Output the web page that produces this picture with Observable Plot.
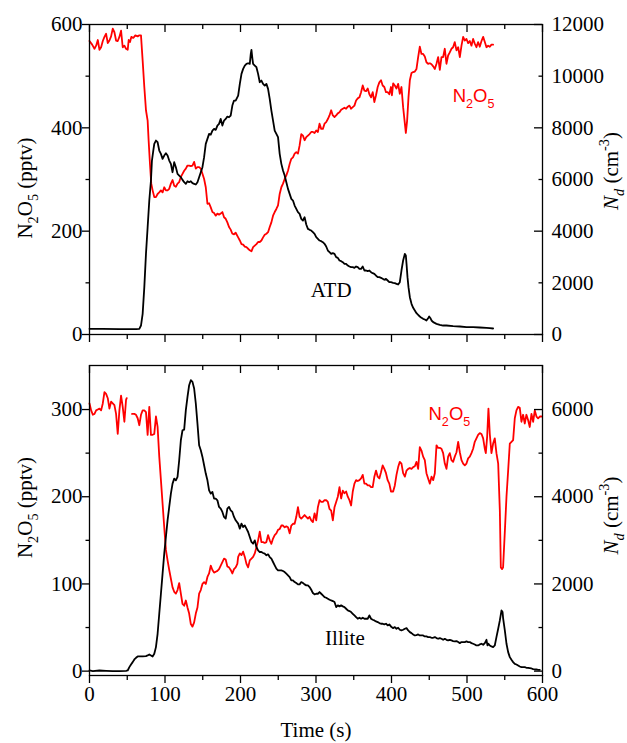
<!DOCTYPE html>
<html>
<head>
<meta charset="utf-8">
<script src="https://cdn.jsdelivr.net/npm/d3@7"></script>
<script src="https://cdn.jsdelivr.net/npm/@observablehq/plot@0.6"></script>
<style>
html, body { margin: 0; padding: 0; background: #fff; }
#chart svg { display: block; }
</style>
</head>
<body>
<div id="chart"></div>
<script>
// ---------------- data ----------------
// time (s), N2O5 (pptv) - ATD experiment
const atdN2O5 = [
[0,568],[3.5,561],[6.6,553],[8.8,559],[11,570],[13.2,551],[15.4,556],[17.6,568],[19.8,576],[22,582],[24.2,564],[26.4,569],[28.6,577],[30.8,592],[33,585],[35.2,569],[37.4,568],[39.6,576],[41.8,588],[44,556],[46.2,559],[48.4,553],[50.6,551],[51.9,570],[53.7,566],[55.4,576],[58,574],[60.7,579],[63.8,577],[66,579],[68.2,579],[70.4,530],[72.6,479],[74.8,434],[77,414],[78.3,376],[80.1,330],[81.8,292],[83.6,279],[85.8,266],[88,266],[90.2,272],[92.4,275],[94.6,279],[96.8,275],[99,285],[101.2,279],[103.4,279],[105.6,282],[107.8,292],[110,299],[112.2,288],[114.4,286],[116.6,292],[118.8,295],[121,305],[123.2,311],[125.4,317],[127.6,321],[129.8,327],[132,327],[134.2,326],[136.4,327],[138.6,334],[140.8,321],[143,324],[145.2,324],[147.4,321],[149.6,311],[151.8,301],[154,285],[156.2,253],[158.4,254],[160.6,246],[162.8,237],[165,235],[167.2,230],[169.4,234],[171.6,232],[173.8,234],[176,237],[178.2,227],[180.4,224],[182.6,217],[184.8,208],[187,203],[189.2,195],[191.4,194],[193.6,197],
[196.9,188],[199.1,182],[201.3,175],[203.5,174],[205.7,170],[207.9,169],[210.1,166],[212.3,163],[214.5,161],[216.7,169],[218.9,172],[221.1,175],[223.3,179],[225.5,179],[227.7,182],[229.9,188],[232.1,193],[234.3,195],[236.5,198],[238.7,208],[240.9,217],[243.1,230],[245.3,237],[247.5,243],[249.7,250],[251.9,272],[254.1,285],[256.3,292],[258.5,301],[260.7,308],[262.9,317],[265.1,330],[267.3,340],[269.5,343],[271.7,350],[273.9,353],[276.1,350],[278.3,366],[280.5,388],[282.7,385],[284.9,376],[287.1,382],[289.3,385],[291.5,388],[293.7,392],[295.9,392],[298.1,390],[300.3,395],[302.5,392],[304.7,408],[306.9,398],[309.1,398],[311.3,408],[313.5,411],[315.7,417],[317.9,424],[320.1,434],[322.3,424],[324.5,421],[326.7,424],[328.9,428],[331.1,430],[333.3,435],[335.5,437],[337.7,439],[339.9,437],[342.1,441],[344.3,443],[346.5,437],[348.7,440],[350.9,443],[353.1,453],[355.3,457],[357.5,459],[359.7,469],[361.9,482],[364.1,472],[366.3,471],[368.5,476],[370.7,465],[372.9,459],[375.1,469],[377.3,450],[379.5,463],[381.7,479],[383.9,488],[386.1,492],[388.3,482],[390.5,479],[392.7,469],[394.9,469],[397.1,465],[399.3,479],[400.6,463],
[402.2,486],[404.4,482],[406.6,476],[408.8,485],[411,466],[413.2,479],[415.4,440],[417.7,408],[419,390],[420.7,414],[422.5,459],[424.3,492],[426.5,506],[428.7,508],[430.9,509],[433.1,514],[435.3,537],[437.5,557],[439.7,543],[441.9,543],[444.1,538],[446.3,527],[448.5,524],[450.8,525],[453,523],[455.2,519],[457.4,514],[459.6,524],[461.8,537],[464,512],[466.2,537],[468.4,537],[470.6,553],[472.8,524],[475,540],[477.2,546],[479.4,553],[481.6,556],[483.8,566],[486.1,550],[488.3,556],[490.5,537],[492.7,559],[494.9,576],[497.1,569],[499.3,572],[501.5,564],[503.7,568],[505.9,559],[508.1,572],[510.3,563],[512.5,556],[514.7,566],[516.9,557],[519.2,568],[521.4,576],[523.6,566],[525.8,556],[528,559],[530.2,557],[532.4,561],[534.6,561]
];
// time (s), Nd (cm^-3) - ATD experiment
const atdNd = [
[0,219],[17.6,219],[39.6,206],[61.6,206],[66,219],[68.2,348],[70.4,800],[72.6,1832],[74.8,3122],[77,4154],[79.2,5186],[81.4,5960],[82.7,6734],[84.5,7121],[85.8,7379],[88,7508],[90.2,7443],[92.4,7121],[94.6,6992],[96.8,6798],[99,6927],[101.2,7018],[103.4,6927],[105.6,6734],[107.8,6605],[110,6282],[112.2,6669],[114.4,6476],[116.6,6218],[118.8,6153],[121,6089],[123.2,5986],[125.4,5895],[127.6,5831],[129.8,5934],[132,5895],[134.2,5934],[136.4,5857],[138.6,5831],[140.8,5805],[143,5895],[145.2,6089],[147.4,6282],[149.6,6476],[151.8,6863],[154,7379],[156.2,7572],[158.4,7766],[160.6,7740],[162.8,7895],[165,7959],[167.2,7921],[169.4,8088],[171.6,8153],[173.8,8346],[176,8088],[178.2,8282],[180.4,8346],[182.6,8437],[184.8,8411],[187,8475],[189.2,8862],[191.4,9056],[193.6,9056],
[196.9,9249],[199.1,9701],[201.3,10088],[203.5,10281],[205.7,10410],[207.9,10475],[210.1,10501],[212.3,10475],[213.6,10862],[214.5,11017],[215.8,10668],[216.7,10475],[218.9,10410],[221.1,10346],[223.3,10088],[225.5,9765],[227.7,9830],[229.9,9701],[232.1,9636],[234.3,9701],[236.5,9507],[238.7,9120],[240.9,8669],[243.1,8282],[245.3,7895],[247.5,7766],[249.7,7637],[251.9,6992],[254.1,6605],[256.3,6347],[258.5,6153],[260.7,5895],[262.9,5637],[265.1,5444],[267.3,5250],[269.5,5186],[271.7,4992],[273.9,4863],[276.1,4734],[278.3,4670],[280.5,4476],[282.7,4412],[284.9,4541],[287.1,4257],[289.3,4089],[291.5,4051],[293.7,4025],[295.9,3960],[298.1,3896],[300.3,3767],[302.5,3702],[304.7,3638],[306.9,3612],[309.1,3573],[311.3,3509],[313.5,3406],[315.7,3251],[317.9,3186],[320.1,3122],[322.3,3148],[324.5,3122],[326.7,2993],[328.9,2967],[331.1,2864],[333.3,2838],[335.5,2799],[337.7,2735],[339.9,2735],[342.1,2670],[344.3,2632],[346.5,2606],[348.7,2606],[350.9,2580],[353.1,2632],[355.3,2606],[357.5,2541],[359.7,2541],[361.9,2632],[364.1,2477],[366.3,2477],[368.5,2451],[370.7,2477],[372.9,2412],[375.1,2374],[377.3,2348],[379.5,2283],[381.7,2219],[383.9,2219],[386.1,2193],[388.3,2154],[390.5,2116],[392.7,2154],[394.9,2090],[397.1,2025],[399.3,2025],
[402.2,2000],[404.4,1986],[406.6,1961],[408.8,1935],[411,2025],[413.2,2477],[415.4,2864],[417.7,3122],[419,3057],[419.9,2735],[421.2,2219],[422.5,1832],[424.3,1445],[426.5,1187],[428.7,1032],[430.9,929],[433.1,826],[435.3,761],[437.5,697],[439.7,645],[441.9,606],[444.1,581],[446.3,542],[448.5,632],[449.9,697],[451.6,632],[453,542],[455.2,477],[459.6,413],[464,374],[468.4,348],[472.8,348],[481.6,323],[490.5,310],[499.3,284],[508.1,284],[516.9,271],[525.8,258],[530.2,245],[534.6,232]
];
// time (s), N2O5 (pptv) - Illite experiment (null = data gap)
const illiteN2O5 = [
[0,307],[2.2,299],[4.4,294],[6.6,295],[8.8,299],[11,300],[13.2,301],[15.4,299],[17.6,307],[19.8,320],[22,318],[24.2,313],[26.4,301],[28.6,309],[30.8,307],[33,305],[35.2,295],[37.4,272],[39.6,299],[41.8,316],[44,303],[46.2,286],[48.4,311],[49.3,313],[52.8,null],[56.3,295],[59.4,295],[61.6,294],[63.8,290],[66,282],[68.2,294],[70.4,299],[72.6,299],[74.8,297],[77,271],[79.2,303],[81.4,271],[83.6,271],[85.8,272],[88,292],[90.2,280],[92.4,246],[94.6,219],[96.8,192],[99,165],[101.2,139],[103.4,127],[105.6,116],[107.8,106],[110,96],[112.2,91],[114.4,89],[116.6,93],[118.8,101],[121,89],[123.2,77],[125.4,75],[127.6,81],[129.8,73],[132,66],[134.2,54],[136.4,51],[138.6,56],[140.8,66],[143,73],[145.2,89],[147.4,93],[149.6,100],[151.8,102],[154,100],[156.2,108],[158.4,112],[160.6,121],[162.8,116],[165,113],[167.2,114],[169.4,115],[171.6,117],[173.8,121],[176,125],[178.2,129],[180.4,128],[182.6,120],[184.8,119],[187,116],[189.2,112],[191.4,117],[193.6,119],[195.8,123],
[196.9,131],[199.1,135],[201.3,133],[203.5,137],[205.7,131],[207.9,123],[210.1,119],[212.3,127],[214.5,129],[216.7,131],[218.9,135],[221.1,142],[223.3,150],[225.5,160],[227.7,148],[229.9,148],[232.1,147],[234.3,148],[236.5,156],[238.7,150],[240.9,146],[243.1,152],[245.3,156],[247.5,158],[249.7,162],[251.9,163],[254.1,167],[256.3,167],[258.5,165],[260.7,166],[262.9,165],[265.1,158],[267.3,167],[269.5,169],[271.7,169],[273.9,177],[276.1,188],[278.3,177],[280.5,175],[282.7,177],[284.9,179],[287.1,177],[289.3,175],[291.5,177],[293.7,173],[295.9,171],[298.1,181],[300.3,173],[302.5,188],[304.7,196],[306.9,194],[309.1,194],[311.3,196],[313.5,196],[315.7,194],[317.9,186],[320.1,184],[322.3,173],[324.5,188],[326.7,194],[328.9,200],[331.1,211],[333.3,198],[335.5,207],[337.7,204],[339.9,206],[342.1,200],[344.3,196],[346.5,190],[348.7,206],[350.9,215],[353.1,219],[355.3,218],[357.5,219],[359.7,221],[361.9,225],[364.1,215],[366.3,215],[368.5,213],[370.7,213],[372.9,211],[375.1,211],[377.3,223],[379.5,230],[381.7,223],[383.9,221],[386.1,228],[388.3,236],[390.5,232],[392.7,227],[394.9,219],[397.1,215],[399.3,206],
[402.2,206],[404.4,213],[406.6,225],[408.8,234],[411,240],[413.2,238],[415.4,227],[417.7,223],[419.9,230],[422.1,232],[424.3,233],[426.5,232],[428.7,234],[430.9,235],[433.1,240],[435.3,232],[437.5,257],[439.7,253],[441.9,246],[444.1,242],[446.3,227],[448.5,221],[450.8,215],[453,223],[455.2,219],[457.4,227],[459.6,259],[461.8,256],[464,256],[466.2,255],[468.4,250],[470.6,238],[472.8,232],[475,246],[477.2,250],[479.4,242],[481.6,240],[483.8,246],[486.1,251],[488.3,263],[490.5,251],[492.7,242],[494.9,238],[497.1,236],[499.3,238],[501.5,244],[503.7,246],[505.9,250],[508.1,255],[510.3,263],[512.5,267],[514.7,271],[516.9,273],[519.2,272],[521.4,267],[523.6,255],[524.9,250],[526.7,269],[528.4,301],[530.2,272],[532.4,250],[534.6,261],[536.8,267],[539,250],[541.3,238],[543.5,184],[544.8,119],[546.5,117],[547.8,119],[550,158],[552.3,200],[554.5,230],[556.7,261],[558.9,263],[561.1,265],[563.3,290],[565.5,299],[567.7,303],[569.9,302],[572.1,286],[574.3,294],[576.5,284],[578.7,294],[580.9,288],[583.1,280],[585.4,295],[587.6,286],[589.8,299],[592,292],[594.2,290],[596.4,292],[598.6,292]
];
// time (s), Nd (cm^-3) - Illite experiment
const illiteNd = [
[0,15],[4.4,0],[13.2,15],[22,8],[30.8,0],[39.6,0],[48.4,8],[50.6,15],[52.8,92],[55,153],[57.2,207],[59.4,268],[61.6,306],[63.8,337],[66,337],[70.4,337],[74.8,344],[77,360],[79.2,383],[81.4,360],[83.6,337],[85.8,398],[88,551],[90.2,857],[92.4,1316],[94.6,1776],[96.8,2235],[99,2694],[101.2,3077],[103.4,3459],[105.6,3765],[107.8,4071],[110,4301],[112.2,4416],[114.4,4377],[116.6,4454],[118.8,4837],[121,5296],[123.2,5525],[125.4,5541],[127.6,5985],[129.8,6291],[132,6559],[134.2,6673],[136.4,6635],[138.6,6482],[140.8,6138],[143,5678],[145.2,5181],[147.4,5066],[149.6,4913],[151.8,4722],[154,4531],[156.2,4377],[158.4,4148],[160.6,4071],[162.8,4110],[165,3957],[167.2,3957],[169.4,3918],[171.6,3765],[173.8,3727],[176,3651],[178.2,3536],[180.4,3497],[182.6,3727],[184.8,3765],[187,3689],[189.2,3651],[191.4,3536],[193.6,3459],
[196.9,3383],[199.1,3268],[201.3,3383],[203.5,3306],[205.7,3344],[207.9,3268],[210.1,3191],[212.3,3077],[214.5,2962],[216.7,2923],[218.9,3000],[221.1,2847],[223.3,2770],[225.5,2732],[227.7,2732],[229.9,2709],[232.1,2694],[234.3,2656],[236.5,2679],[238.7,2617],[240.9,2579],[243.1,2503],[245.3,2426],[247.5,2349],[249.7,2311],[251.9,2311],[254.1,2311],[256.3,2296],[258.5,2273],[260.7,2235],[262.9,2196],[265.1,2158],[267.3,2082],[269.5,2082],[271.7,2043],[273.9,2020],[276.1,1990],[278.3,1990],[280.5,2043],[282.7,2020],[284.9,1990],[287.1,1967],[289.3,1967],[291.5,1929],[293.7,1867],[295.9,1791],[298.1,1760],[300.3,1775],[302.5,1775],[304.7,1814],[306.9,1775],[309.1,1737],[311.3,1699],[313.5,1684],[315.7,1661],[317.9,1638],[320.1,1622],[322.3,1607],[324.5,1584],[326.7,1469],[328.9,1508],[331.1,1485],[333.3,1508],[335.5,1485],[337.7,1469],[339.9,1431],[342.1,1393],[344.3,1378],[346.5,1355],[348.7,1316],[350.9,1278],[353.1,1240],[355.3,1202],[357.5,1224],[359.7,1202],[361.9,1224],[364.1,1202],[366.3,1202],[368.5,1202],[370.7,1278],[372.9,1202],[375.1,1179],[377.3,1163],[379.5,1140],[381.7,1125],[383.9,1102],[386.1,1087],[388.3,1087],[390.5,1071],[392.7,1087],[394.9,1048],[397.1,1071],
[400,1010],[402.2,987],[404.4,1010],[406.6,972],[408.8,995],[411,949],[413.2,934],[415.4,949],[417.7,972],[419.9,987],[422.1,934],[424.3,895],[426.5,872],[428.7,842],[430.9,819],[433.1,827],[435.3,842],[437.5,819],[439.7,819],[441.9,819],[444.1,796],[446.3,796],[448.5,781],[450.8,781],[453,765],[455.2,765],[457.4,781],[459.6,758],[461.8,742],[464,758],[466.2,742],[468.4,719],[470.6,742],[472.8,719],[475,704],[477.2,719],[479.4,704],[481.6,689],[483.8,681],[486.1,689],[488.3,666],[490.5,643],[492.7,666],[494.9,666],[497.1,666],[499.3,681],[501.5,666],[503.7,666],[505.9,643],[508.1,628],[510.3,612],[512.5,589],[514.7,589],[516.9,612],[519.2,628],[521.4,605],[523.6,643],[525.8,719],[527.1,589],[528.4,628],[530.2,589],[532.4,566],[534.6,551],[536.8,589],[539,781],[541.3,972],[543.5,1163],[545.7,1393],[547.1,1355],[547.9,1202],[550.1,934],[552.3,628],[554.5,436],[556.7,321],[558.9,260],[561.1,207],[563.3,168],[565.5,153],[567.7,130],[569.9,107],[572.1,92],[574.3,92],[576.5,92],[578.7,77],[580.9,77],[583.1,69],[585.4,61],[587.6,46],[589.8,38],[592,38],[594.2,31],[596.4,31]
];

// tick values
const timeTicks = [0, 100, 200, 300, 400, 500, 600];
const timeMinor = [50, 150, 250, 350, 450, 550];
const atdLeftTicks = [0, 200, 400, 600];
const atdLeftMinor = [100, 300, 500];
const atdRightTicks = [0, 2000, 4000, 6000, 8000, 10000, 12000];
const illiteLeftTicks = [0, 100, 200, 300];
const illiteLeftMinor = [50, 150, 250];
const illiteRightTicks = [0, 2000, 4000, 6000];

// text
const seriesLabel = "N2O5";
const leftAxisLabel = "N2O5 (pptv)";
const rightAxisLabel = "Nd (cm-3)";
const xAxisLabel = "Time (s)";
const panelNames = ["ATD", "Illite"];

// ---------------- drawing ----------------
const RATIO = 20;           // right axis (cm^-3) per left-axis unit (pptv)
const RED = "#ff0000";
const W = 627, ML = 89, MR = 85;
const SERIF = "'Liberation Serif', 'Times New Roman', serif";
const SANS = "'Liberation Sans', Arial, sans-serif";
const FS = 21;

function makePanel(cfg) {
  const fw = W - ML - MR;
  const fh = cfg.height - cfg.marginTop - cfg.marginBottom;
  const lw = 1.3;
  const marks = [
    Plot.line(cfg.n2o5, {x: d => d[0], y: d => d[1], stroke: RED, strokeWidth: 1.8}),
    Plot.line(cfg.nd, {x: d => d[0], y: d => d[1] / RATIO, stroke: "#000", strokeWidth: 1.8}),
    Plot.frame({stroke: "#000", strokeWidth: lw}),
    Plot.tickX(timeTicks, {x: d => d, insetTop: fh, insetBottom: -8, stroke: "#000", strokeWidth: lw}),
    Plot.tickX(timeMinor, {x: d => d, insetTop: fh, insetBottom: -5, stroke: "#000", strokeWidth: lw}),
    Plot.tickX(timeTicks, {x: d => d, insetTop: 0, insetBottom: fh - 8, stroke: "#000", strokeWidth: lw}),
    Plot.tickX(timeMinor, {x: d => d, insetTop: 0, insetBottom: fh - 5, stroke: "#000", strokeWidth: lw}),
    Plot.tickY(cfg.leftTicks, {y: d => d, insetLeft: -7, insetRight: fw, stroke: "#000", strokeWidth: lw}),
    Plot.tickY(cfg.leftMinor, {y: d => d, insetLeft: -3.5, insetRight: fw, stroke: "#000", strokeWidth: lw}),
    Plot.tickY(cfg.leftTicks, {y: d => d, insetLeft: fw - 8, insetRight: 0, stroke: "#000", strokeWidth: lw}),
    Plot.tickY(cfg.leftMinor, {y: d => d, insetLeft: fw - 3.5, insetRight: 0, stroke: "#000", strokeWidth: lw}),
    Plot.axisY(cfg.leftTicks, {anchor: "left", tickSize: 0, tickPadding: 7, label: null,
      fontSize: FS, fontFamily: SERIF, tickFormat: d => String(d)}),
    Plot.axisY(cfg.rightTicks.map(v => v / RATIO), {anchor: "right", tickSize: 0, tickPadding: 9, label: null,
      fontSize: FS, fontFamily: SERIF, tickFormat: d => String(Math.round(d * RATIO))}),
    Plot.text([leftAxisLabel], {text: d => d, frameAnchor: "left", rotate: -90, dx: -57.5, dy: cfg.leftDy,
      lineAnchor: "bottom", textAnchor: "middle", fontSize: FS, fontFamily: SERIF, fill: "#000"}),
    Plot.text([rightAxisLabel], {text: d => d, frameAnchor: "right", rotate: -90, dx: 75.5, dy: cfg.rightDy,
      lineAnchor: "bottom", textAnchor: "middle", fontSize: FS, fontFamily: SERIF, fill: "#000"}),
    Plot.text([seriesLabel], {x: cfg.seriesPos[0], y: cfg.seriesPos[1], text: d => d, textAnchor: "start",
      lineAnchor: "bottom", fill: RED, fontSize: 18.5, fontFamily: SANS}),
    Plot.text([cfg.name], {x: cfg.namePos[0], y: cfg.namePos[1], text: d => d, textAnchor: "start",
      lineAnchor: "bottom", fill: "#000", fontSize: FS, fontFamily: SERIF})
  ];
  if (cfg.showX) {
    marks.push(Plot.axisX(timeTicks, {anchor: "bottom", tickSize: 0, tickPadding: 11, label: null,
      fontSize: FS, fontFamily: SERIF, tickFormat: d => String(d)}));
    marks.push(Plot.text([xAxisLabel], {text: d => d, frameAnchor: "bottom", dy: 61.5, lineAnchor: "bottom",
      textAnchor: "middle", fontSize: FS, fontFamily: SERIF, fill: "#000"}));
  }
  return Plot.plot({
    width: W,
    height: cfg.height,
    marginLeft: ML,
    marginRight: MR,
    marginTop: cfg.marginTop,
    marginBottom: cfg.marginBottom,
    x: cfg.showX ? {domain: [0, 600]} : {domain: [0, 600], axis: null},
    y: {domain: cfg.yDomain},
    style: {fontFamily: SERIF, fontSize: FS + "px", color: "#000", background: "#fff", overflow: "visible"},
    marks
  });
}

const RICH = {
  "N2O5": [["N"], ["2", "sub"], ["O"], ["5", "sub"]],
  "N2O5 (pptv)": [["N"], ["2", "sub"], ["O"], ["5", "sub"], [" (pptv)"]],
  "Nd (cm-3)": [["N", "it"], ["d", "sub it"], [" (cm"], ["-3", "sup"], [")"]]
};
function enrich(svg) {
  d3.select(svg).selectAll("text").each(function () {
    const raw = this.textContent;
    this.style.fontFamily = raw === seriesLabel ? SANS : SERIF;
    const parts = RICH[raw];
    if (!parts) return;
    const fs = parseFloat(getComputedStyle(this).fontSize) || FS;
    this.textContent = "";
    let shift = 0;
    for (const [s, kind = ""] of parts) {
      const t = document.createElementNS("http://www.w3.org/2000/svg", "tspan");
      let target = 0;
      if (kind.includes("sub")) { target = 0.3 * fs; t.setAttribute("font-size", (0.68 * fs).toFixed(1)); }
      if (kind.includes("sup")) { target = -0.42 * fs; t.setAttribute("font-size", (0.68 * fs).toFixed(1)); }
      if (target !== shift) t.setAttribute("dy", (target - shift).toFixed(2));
      shift = target;
      if (kind.includes("it")) t.setAttribute("font-style", "italic");
      t.textContent = s;
      this.appendChild(t);
    }
  });
}

const topPanel = makePanel({
  n2o5: atdN2O5, nd: atdNd, name: panelNames[0],
  height: 350, marginTop: 24, marginBottom: 16, yDomain: [0, 600],
  leftTicks: atdLeftTicks, leftMinor: atdLeftMinor, rightTicks: atdRightTicks,
  seriesPos: [481, 449.5], namePos: [293, 73.5], leftDy: 8.5, rightDy: -8.5, showX: false
});
const bottomPanel = makePanel({
  n2o5: illiteN2O5, nd: illiteNd, name: panelNames[1],
  height: 393, marginTop: 15, marginBottom: 68, yDomain: [-5, 350.5],
  leftTicks: illiteLeftTicks, leftMinor: illiteLeftMinor, rightTicks: illiteRightTicks,
  seriesPos: [449, 288], namePos: [312, 29.5], leftDy: -13, rightDy: -5, showX: true
});
const chartDiv = document.getElementById("chart");
chartDiv.appendChild(topPanel);
chartDiv.appendChild(bottomPanel);
enrich(topPanel);
enrich(bottomPanel);
</script>
</body>
</html>
